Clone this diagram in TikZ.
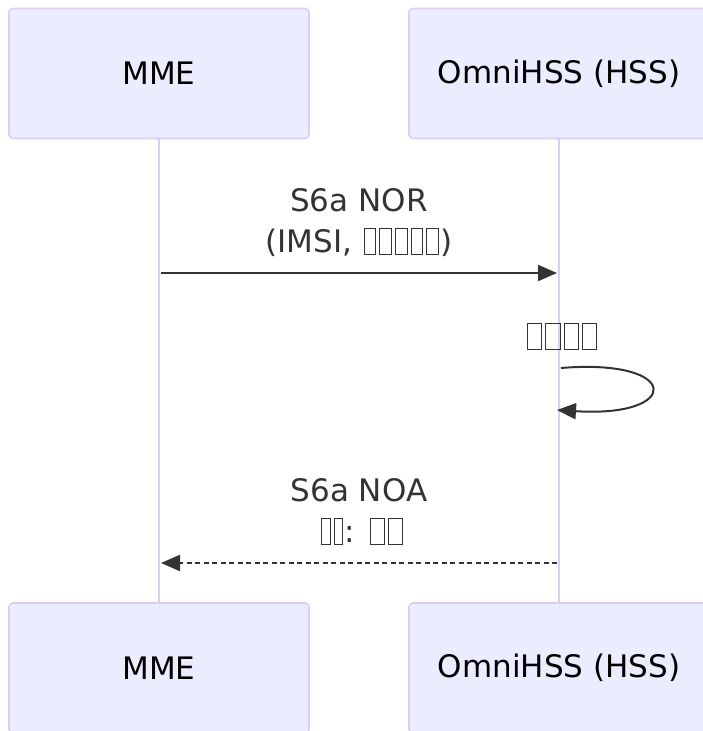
\documentclass[tikz,border=0pt]{standalone}
\usepackage{fontspec}
\setmainfont{DejaVu Sans}
\usetikzlibrary{arrows.meta}
\definecolor{actorfill}{HTML}{ECECFF}
\definecolor{actorline}{HTML}{DACEF3}
\definecolor{ink}{HTML}{333333}
\newcommand\tofubox[1]{\kern1.5pt\lower3pt\hbox{\vrule width0.9pt\vbox to 27pt{\hrule width #1 height 0.9pt\vfil\hrule width #1 height 0.9pt}\vrule width0.9pt}\kern1.5pt}
\begin{document}
\begin{tikzpicture}[x=1pt,y=-1pt,
  actor/.style={draw=actorline, line width=1.6pt, fill=actorfill, rounded corners=4pt,
    minimum width=300pt, minimum height=130pt, inner sep=0pt, font=\fontsize{31}{38}\selectfont, text=black},
  lifeline/.style={draw=actorline, line width=2.4pt},
  msg/.style={draw=ink, line width=2pt, -{Triangle[length=19pt,width=16pt]}},
  reply/.style={msg, dash pattern=on 5pt off 3.5pt},
  lbl/.style={anchor=base, inner sep=0pt, font=\fontsize{31}{38}\selectfont, text=ink}]
\useasboundingbox (0,0) rectangle (703,731);
\node[actor] (mmeTop) at (159,73.5) {MME};
\node[actor] (hssTop) at (559,73.5) {OmniHSS (HSS)};
\node[actor] (mmeBot) at (159,668) {MME};
\node[actor] (hssBot) at (559,668) {OmniHSS (HSS)};
\draw[lifeline] (mmeTop.south) -- (mmeBot.north);
\draw[lifeline] (hssTop.south) -- (hssBot.north);
% message 1
\coordinate (m1s) at (161,273);
\coordinate (m1e) at (557,273);
\draw[msg] (m1s) -- (m1e);
\node[lbl] (l1a) at (359,211) {S6a NOR};
\node[lbl] (l1b) at (359,252) {(IMSI, \tofubox{10.8pt}\tofubox{10.8pt}\tofubox{10.8pt}\tofubox{10.8pt}\tofubox{10.8pt})};
% self message
\node[lbl] (l2) at (562,347) {\tofubox{13.5pt}\tofubox{13.5pt}\tofubox{13.5pt}\tofubox{13.5pt}};
\coordinate (m2s) at (561,368);
\coordinate (m2e) at (557,410);
\draw[msg] (m2s) .. controls (682,358) and (682,418) .. (m2e);
% message 3
\node[lbl] (l3a) at (359,501) {S6a NOA};
\node[lbl] (l3b) at (362,542) {\tofubox{7.7pt}\tofubox{7.7pt}: \tofubox{13.2pt}\tofubox{13.2pt}};
\coordinate (m3s) at (557,563);
\coordinate (m3e) at (161,563);
\draw[reply] (m3s) -- (m3e);
\end{tikzpicture}
\end{document}
